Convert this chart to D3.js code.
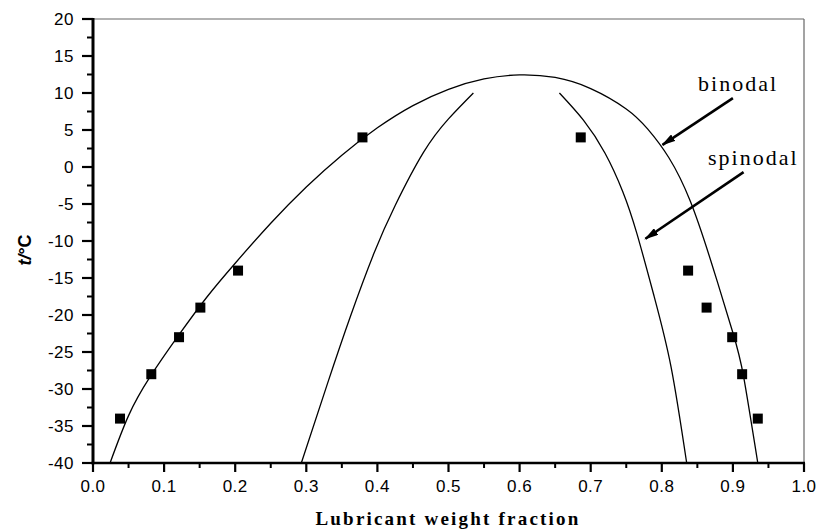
<!DOCTYPE html>
<html>
<head>
<meta charset="utf-8">
<script src="https://cdn.jsdelivr.net/npm/d3@7"></script>
<style>
  body, html { margin:0; padding:0; background:#fff; }
  .tick-label { font-family: Arial, "Liberation Sans", sans-serif; font-size:17px; letter-spacing:0.5px; fill:#000; }
  .anno { font-family: "Times New Roman", "Liberation Serif", serif; font-size:22px; letter-spacing:2px; fill:#000; }
</style>
</head>
<body>
<svg id="chart" width="818" height="529"></svg>
<script>
// measured points (weight fraction, temperature)
var pointX = [0.038, 0.082, 0.121, 0.151, 0.204, 0.379, 0.686, 0.837, 0.863, 0.899, 0.913, 0.935];
var pointT = [-34, -28, -23, -19, -14, 4, 4, -14, -19, -23, -28, -34];

// binodal curve
var binodalX = [0.024, 0.05, 0.08, 0.12, 0.16, 0.20, 0.25, 0.30, 0.35, 0.40, 0.45, 0.50, 0.55, 0.60, 0.65, 0.70, 0.75, 0.78, 0.81, 0.84, 0.87, 0.90, 0.915, 0.935];
var binodalT = [-40, -33.6, -28.4, -22.8, -17.6, -13.0, -7.6, -2.7, 1.6, 5.3, 8.3, 10.5, 11.9, 12.45, 12.1, 10.6, 7.85, 5.15, 1.25, -4.6, -13.0, -22.4, -28.3, -40];

// spinodal curve, two branches
var spinLeftX = [0.293, 0.330, 0.362, 0.395, 0.425, 0.465, 0.500, 0.535];
var spinLeftT = [-40, -29.2, -20.2, -11.7, -5.2, 2.0, 6.5, 10];
var spinRightX = [0.656, 0.69, 0.72, 0.745, 0.765, 0.789, 0.813, 0.835];
var spinRightT = [10, 6.3, 1.9, -3.3, -9.0, -17.4, -27.0, -40];

var xTicks = [0, 0.1, 0.2, 0.3, 0.4, 0.5, 0.6, 0.7, 0.8, 0.9, 1.0];
var yTicks = [20, 15, 10, 5, 0, -5, -10, -15, -20, -25, -30, -35, -40];

// annotations: label, text anchor (x, t), arrow tail (x, t) -> head (x, t)
var annoLabels = ["binodal", "spinodal"];
var annoText = [[0.851, 10.3], [0.865, 0.3]];
var annoArrows = [[0.900, 9.3, 0.801, 3.0], [0.915, -0.7, 0.777, -9.7]];

var margin = {left:93, top:19, right:14, bottom:66};
var W = 818 - margin.left - margin.right;
var H = 529 - margin.top - margin.bottom;

var svg = d3.select("#chart");
var g = svg.append("g").attr("transform", "translate(" + margin.left + "," + margin.top + ")");

var x = d3.scaleLinear().domain([0, 1]).range([0, W]);
var y = d3.scaleLinear().domain([-40, 20]).range([H, 0]);

// frame: top and right thin grey
g.append("line").attr("x1", 0).attr("x2", W).attr("y1", 0).attr("y2", 0)
  .style("stroke", "#666").style("stroke-width", 1.2);
g.append("line").attr("x1", W).attr("x2", W).attr("y1", 0).attr("y2", H)
  .style("stroke", "#666").style("stroke-width", 1.2);

// x axis
var xMinor = d3.range(0.05, 1, 0.1);
g.selectAll(".xmin").data(xMinor).enter().append("line")
  .attr("x1", function(d){return x(d)}).attr("x2", function(d){return x(d)})
  .attr("y1", H).attr("y2", H + 5).style("stroke", "#000").style("stroke-width", 2);
g.selectAll(".xmaj").data(xTicks).enter().append("line")
  .attr("x1", function(d){return x(d)}).attr("x2", function(d){return x(d)})
  .attr("y1", H).attr("y2", H + 9).style("stroke", "#000").style("stroke-width", 2.2);
g.selectAll(".xlab").data(xTicks).enter().append("text")
  .attr("class", "tick-label")
  .attr("x", function(d){return x(d)}).attr("y", H + 29)
  .attr("text-anchor", "middle")
  .text(function(d){return d3.format(".1f")(d)});
g.append("line").attr("x1", -1.5).attr("x2", W + 1).attr("y1", H).attr("y2", H)
  .style("stroke", "#000").style("stroke-width", 2.6);

// y axis
var yMinor = d3.range(-37.5, 20, 5);
g.selectAll(".ymin").data(yMinor).enter().append("line")
  .attr("x1", -6).attr("x2", 0)
  .attr("y1", function(d){return y(d)}).attr("y2", function(d){return y(d)})
  .style("stroke", "#000").style("stroke-width", 2);
g.selectAll(".ymaj").data(yTicks).enter().append("line")
  .attr("x1", -11).attr("x2", 0)
  .attr("y1", function(d){return y(d)}).attr("y2", function(d){return y(d)})
  .style("stroke", "#000").style("stroke-width", 2.2);
g.selectAll(".ylab").data(yTicks).enter().append("text")
  .attr("class", "tick-label")
  .attr("x", -19).attr("y", function(d){return y(d)})
  .attr("dy", "0.36em")
  .attr("text-anchor", "end")
  .text(function(d){return d});
g.append("line").attr("x1", 0).attr("x2", 0).attr("y1", -1).attr("y2", H + 1.3)
  .style("stroke", "#000").style("stroke-width", 3);

// curves
var line = d3.line()
  .x(function(d){return x(d[0])})
  .y(function(d){return y(d[1])})
  .curve(d3.curveNatural);

function zip(a, b){ return a.map(function(v, i){ return [v, b[i]]; }); }

[zip(binodalX, binodalT), zip(spinLeftX, spinLeftT), zip(spinRightX, spinRightT)].forEach(function(pts){
  g.append("path").attr("d", line(pts))
    .style("fill", "none").style("stroke", "#000").style("stroke-width", 1.3);
});

// squares
var sq = 10;
g.selectAll(".pt").data(zip(pointX, pointT)).enter().append("rect")
  .attr("x", function(d){return x(d[0]) - sq/2})
  .attr("y", function(d){return y(d[1]) - sq/2})
  .attr("width", sq).attr("height", sq)
  .style("fill", "#000");

// arrows
svg.append("defs").append("marker")
  .attr("id", "head").attr("viewBox", "0 0 10 10")
  .attr("refX", 9).attr("refY", 5)
  .attr("markerWidth", 5.5).attr("markerHeight", 3)
  .attr("orient", "auto")
  .attr("preserveAspectRatio", "none")
  .append("path").attr("d", "M0,0 L10,5 L0,10 z").style("fill", "#000");

annoArrows.forEach(function(a){
  g.append("line")
    .attr("x1", x(a[0])).attr("y1", y(a[1]))
    .attr("x2", x(a[2])).attr("y2", y(a[3]))
    .style("stroke", "#000").style("stroke-width", 2.6)
    .attr("marker-end", "url(#head)");
});
annoLabels.forEach(function(lbl, i){
  g.append("text").attr("class", "anno")
    .attr("x", x(annoText[i][0])).attr("y", y(annoText[i][1]))
    .text(lbl);
});

// axis titles
svg.append("text")
  .attr("x", 448).attr("y", 525)
  .attr("text-anchor", "middle")
  .style("font-family", "'Times New Roman', 'Liberation Serif', serif")
  .style("font-weight", "bold").style("font-size", "19px").style("letter-spacing", "2.2px")
  .text("Lubricant weight fraction");

var yt = svg.append("text")
  .attr("transform", "translate(31,250) rotate(-90)")
  .attr("text-anchor", "middle")
  .style("font-family", "Arial, 'Liberation Sans', sans-serif")
  .style("font-weight", "bold").style("font-size", "18px");
yt.append("tspan").style("font-style", "italic").text("t/");
yt.append("tspan").text("°C");
</script>
</body>
</html>
